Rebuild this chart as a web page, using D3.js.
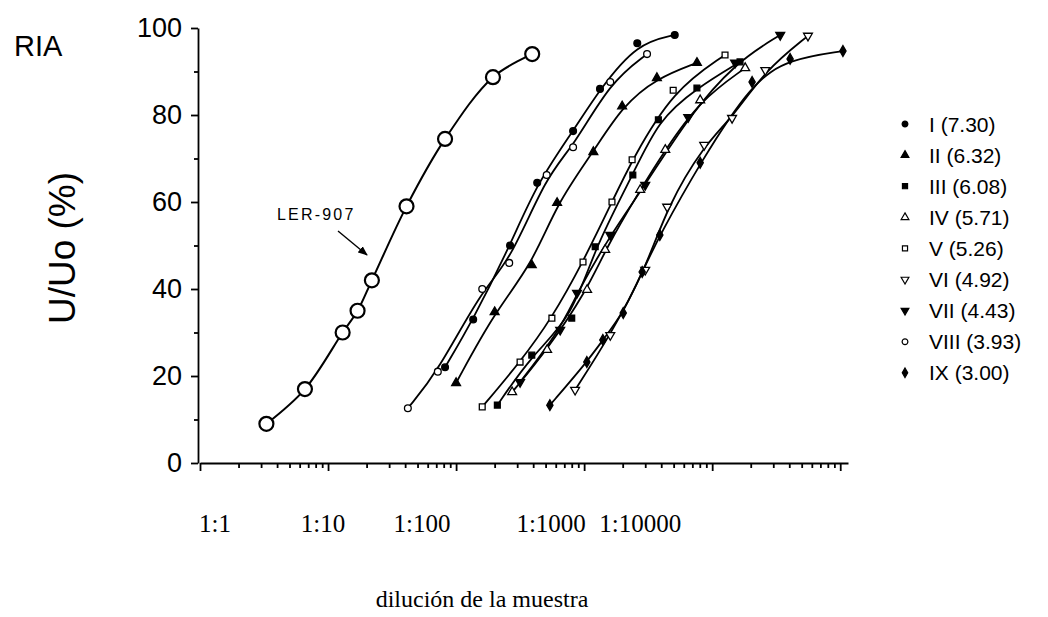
<!DOCTYPE html>
<html><head><meta charset="utf-8">
<script src="https://cdn.jsdelivr.net/npm/d3@7/dist/d3.min.js"></script>
<style>body{margin:0;background:#fff}</style>
</head><body>
<svg id="c" width="1048" height="617"></svg>
<script>
// ---------- data ----------
const lerX = [3.3, 6.6, 13, 17, 22, 41, 82, 194, 393];
const lerY = [9, 17, 30, 35, 42, 59, 74.5, 88.7, 94];

const s1X = [82, 136, 264, 430, 820, 1330, 2600, 5100];
const s1Y = [22, 33, 50, 64.4, 76.3, 86, 96.5, 98.4];
const s2X = [100, 200, 390, 615, 1180, 1980, 3700, 7600];
const s2Y = [18.4, 34.7, 45.5, 59.8, 71.5, 82, 88.5, 92];
const s3X = [210, 390, 800, 1220, 2400, 3800, 7600, 16500];
const s3Y = [13.3, 24.8, 33.3, 49.7, 66.2, 78.9, 86.2, 92.2];
const s4X = [274, 514, 1055, 1460, 2740, 4300, 8060, 18100];
const s4Y = [16.3, 26, 39.8, 49, 62.8, 72, 83.4, 90.8];
const s5X = [160, 316, 560, 980, 1650, 2370, 4960, 12600];
const s5Y = [12.9, 23.2, 33.3, 46.2, 60, 69.7, 85.7, 93.8];
const s6X = [850, 1600, 3000, 4450, 8660, 14300, 26000, 56000];
const s6Y = [16.8, 29.4, 44.4, 58.9, 73.1, 79.3, 90.3, 98.2];
const s7X = [316, 650, 880, 1600, 3000, 6500, 15100, 34000];
const s7Y = [18.6, 30.6, 39.1, 52.4, 63.9, 79.5, 92, 98.4];
const s8X = [42, 72, 160, 260, 510, 820, 1600, 3100];
const s8Y = [12.6, 21, 40, 46, 66.2, 72.6, 87.6, 94];
const s9X = [540, 1050, 1400, 2020, 2840, 3900, 8060, 20500, 40600, 105000];
const s9Y = [13.3, 23.2, 28.3, 34.5, 43.9, 52.4, 69, 87.6, 92.9, 94.7];

const seriesLabels = ["I (7.30)", "II (6.32)", "III (6.08)", "IV (5.71)", "V (5.26)",
                      "VI (4.92)", "VII (4.43)", "VIII (3.93)", "IX (3.00)"];
const xTickLabels = ["1:1", "1:10", "1:100", "1:1000", "1:10000"];
const xTickValues = [1, 10, 100, 1000, 10000];
const yTickValues = [0, 20, 40, 60, 80, 100];

// ---------- style / layout (kept apart from data) ----------
const markerStyle = [
  {type: d3.symbolCircle,   fill: true,  rot: 0},
  {type: d3.symbolTriangle, fill: true,  rot: 0},
  {type: d3.symbolSquare,   fill: true,  rot: 0},
  {type: d3.symbolTriangle, fill: false, rot: 0},
  {type: d3.symbolSquare,   fill: false, rot: 0},
  {type: d3.symbolTriangle, fill: false, rot: 180},
  {type: d3.symbolTriangle, fill: true,  rot: 180},
  {type: d3.symbolCircle,   fill: false, rot: 0},
  {type: d3.symbolDiamond,  fill: true,  rot: 0}
];
const xLabelShift = [15, -5, -34, -33, -72];

const seriesX = [s1X, s2X, s3X, s4X, s5X, s6X, s7X, s8X, s9X];
const seriesY = [s1Y, s2Y, s3Y, s4Y, s5Y, s6Y, s7Y, s8Y, s9Y];
const series = seriesLabels.map((name, i) => ({
  name, style: markerStyle[i],
  pts: seriesX[i].map((v, j) => ({x: v, y: seriesY[i][j]}))
}));
const ler = lerX.map((v, j) => ({x: v, y: lerY[j]}));

const svg = d3.select("#c");
const x = d3.scaleLog().domain([1, 115000]).range([200, 848]);
const y = d3.scaleLinear().domain([0, 100]).range([463, 28]);

const sans = "Liberation Sans, Arial, Helvetica, sans-serif";
const serif = "Liberation Serif, Times New Roman, serif";

// ---------- axes ----------
const minorX = [];
for (let k = 0; k <= 5; k++) for (let m = 2; m <= 9; m++) {
  const v = m * Math.pow(10, k); if (v <= 115000) minorX.push(v);
}
const majorX = [1, 10, 100, 1000, 10000, 100000];

function styleAxis(g) {
  g.selectAll("path,line").attr("stroke", "#000").attr("stroke-width", 1.8);
}
svg.append("g").attr("transform", "translate(0,463)")
  .call(d3.axisBottom(x).tickValues(minorX).tickSize(5).tickSizeOuter(0).tickFormat(""))
  .call(styleAxis);
svg.append("g").attr("transform", "translate(0,463)")
  .call(d3.axisBottom(x).tickValues(majorX).tickSize(8).tickSizeOuter(0).tickFormat(""))
  .call(styleAxis).select(".domain").remove();

svg.append("g").attr("transform", "translate(198,0)")
  .call(d3.axisLeft(y).tickValues([10, 30, 50, 70, 90]).tickSize(4).tickSizeOuter(0).tickFormat(""))
  .call(styleAxis);
const ya = svg.append("g").attr("transform", "translate(198,0)")
  .call(d3.axisLeft(y).tickValues(yTickValues).tickSize(7).tickSizeOuter(0).tickPadding(9))
  .call(styleAxis);
ya.select(".domain").remove();
ya.selectAll("text").attr("font-family", sans).attr("font-size", 27).attr("fill", "#000");

// x tick labels
svg.append("g").selectAll("text").data(xTickLabels).join("text")
  .attr("x", (d, i) => x(xTickValues[i]) + xLabelShift[i])
  .attr("y", 532)
  .attr("text-anchor", "middle")
  .attr("font-family", serif).attr("font-size", 25)
  .text(d => d);

// titles
svg.append("text").attr("x", 482).attr("y", 607).attr("text-anchor", "middle")
  .attr("font-family", serif).attr("font-size", 24).text("dilución de la muestra");
svg.append("text").attr("x", 14).attr("y", 56)
  .attr("font-family", sans).attr("font-size", 29).text("RIA");
svg.append("text").attr("transform", "translate(75,248) rotate(-90)")
  .attr("text-anchor", "middle")
  .attr("font-family", sans).attr("font-size", 37).text("U/Uo (%)");

// ---------- series ----------
const lineSmooth = d3.line().x(d => x(d.x)).y(d => y(d.y)).curve(d3.curveBasis);
const lineLer = d3.line().x(d => x(d.x)).y(d => y(d.y)).curve(d3.curveCatmullRom.alpha(0.5));

const sg = svg.append("g");
series.forEach(s => {
  sg.append("path").attr("d", lineSmooth(s.pts))
    .attr("fill", "none").attr("stroke", "#000").attr("stroke-width", 1.8);
});
series.forEach(s => {
  sg.append("g").selectAll("path").data(s.pts).join("path")
    .attr("d", d3.symbol().type(s.style.type).size(s.style.type === d3.symbolCircle ? 36 : 34))
    .attr("transform", d => `translate(${x(d.x)},${y(d.y)}) rotate(${s.style.rot})`)
    .attr("fill", s.style.fill ? "#000" : "#fff")
    .attr("stroke", "#000").attr("stroke-width", 1.3);
});

// LER-907
svg.append("path").attr("d", lineLer(ler))
  .attr("fill", "none").attr("stroke", "#000").attr("stroke-width", 2);
svg.append("g").selectAll("circle").data(ler).join("circle")
  .attr("cx", d => x(d.x)).attr("cy", d => y(d.y)).attr("r", 7)
  .attr("fill", "#fff").attr("stroke", "#000").attr("stroke-width", 2.2);

svg.append("text").attr("x", 277).attr("y", 220)
  .attr("font-family", sans).attr("font-size", 16).attr("letter-spacing", 2.2)
  .text("LER-907");
svg.append("defs").append("marker").attr("id", "ah")
  .attr("viewBox", "0 0 10 10").attr("refX", 9).attr("refY", 5)
  .attr("markerWidth", 7).attr("markerHeight", 7).attr("orient", "auto")
  .append("path").attr("d", "M0,1 L10,5 L0,9 Z").attr("fill", "#000");
svg.append("line").attr("x1", 338).attr("y1", 231).attr("x2", 367).attr("y2", 255)
  .attr("stroke", "#000").attr("stroke-width", 1.4).attr("marker-end", "url(#ah)");

// ---------- legend ----------
const lg = svg.append("g").selectAll("g").data(series).join("g")
  .attr("transform", (d, i) => `translate(905,${124 + i * 31.1})`);
lg.append("path")
  .attr("d", d => d3.symbol().type(d.style.type).size(26)())
  .attr("transform", d => `rotate(${d.style.rot})`)
  .attr("fill", d => d.style.fill ? "#000" : "#fff")
  .attr("stroke", "#000").attr("stroke-width", 1.2);
lg.append("text").attr("x", 24).attr("dy", "0.36em")
  .attr("font-family", sans).attr("font-size", 21).text(d => d.name);
</script>
</body></html>
